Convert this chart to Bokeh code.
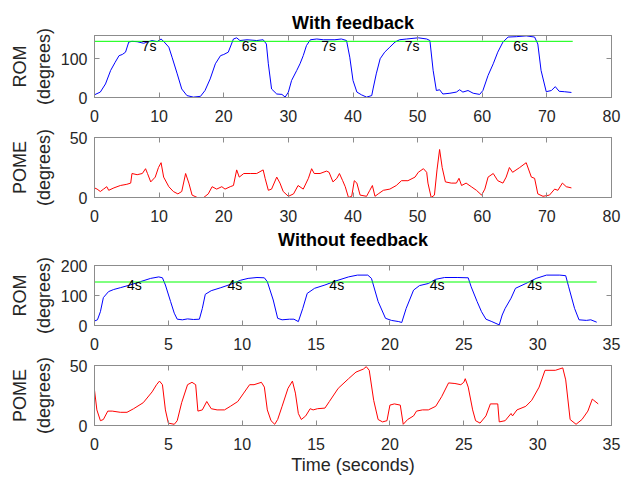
from bokeh.plotting import figure
from bokeh.layouts import column
from bokeh.models import Range1d, LinearAxis, FixedTicker, Title
from bokeh.embed import file_html
from bokeh.resources import INLINE
from bokeh.core.properties import value

# ---------------- data: with feedback ----------------
fb_rom_t = [0, 0.9, 1.7, 2.5, 3.2, 3.8, 4.3, 4.8, 5.3, 5.8, 6.6, 7.6, 8.9, 9.7, 10.3, 10.8, 11.5, 12.0,
            12.8, 13.5, 14.3, 15.3, 16.4, 17.1, 17.9, 18.7, 19.5, 20.0, 20.7, 21.5, 22.0, 22.5, 23.6,
            25.1, 26.1, 26.6, 26.9, 27.4, 28.2, 29.0, 29.5, 30.0, 30.5, 31.3, 31.8, 32.3, 32.8, 33.4,
            34.4, 35.4, 37.2, 38.2, 39.0, 39.5, 40.0, 40.6, 41.3, 42.1, 42.9, 43.1, 43.6, 44.2, 44.9,
            45.7, 46.5, 47.2, 48.3, 50.1, 51.4, 51.9, 52.4, 52.9, 53.4, 53.9, 55.0, 56.0, 56.5, 57.0,
            57.8, 58.6, 59.6, 60.1, 60.9, 61.7, 62.4, 63.2, 64.0, 65.3, 66.8, 68.1, 68.6, 69.1, 69.9,
            70.7, 71.3, 71.9, 72.7, 73.8]
fb_rom_v = [7, 14, 35, 70, 91, 108, 111, 117, 143, 145, 144, 140, 147, 144, 151, 143, 130, 104,
            61, 22, 5, 1, 3, 18, 48, 87, 108, 111, 117, 151, 154, 147, 149,
            147, 149, 138, 87, 22, 9, 8, 1, 14, 44, 70, 87, 108, 134, 149,
            151, 149, 149, 151, 147, 104, 44, 14, 7, 1, 5, 22, 61, 100, 117,
            130, 143, 149, 151, 154, 151, 147, 70, 18, 20, 9, 11, 14, 20, 14,
            18, 11, 8, 18, 57, 87, 117, 143, 156, 157, 159, 156, 138, 70, 15,
            18, 28, 16, 15, 13]

fb_pome_t = [0, 0.4, 0.9, 1.4, 1.9, 2.2, 3.0, 4.0, 5.0, 5.6, 5.8, 6.6, 7.4, 7.9, 8.2, 8.7, 9.4, 9.9,
             10.3, 10.7, 11.5, 12.2, 12.9, 13.5, 14.1, 14.6, 15.1, 15.9, 16.9, 17.6, 18.2, 18.9, 19.7,
             20.2, 21.0, 21.5, 22.0, 22.4, 23.1, 24.1, 25.1, 26.1, 26.4, 26.9, 27.4, 28.2, 28.7, 29.2,
             30.0, 30.8, 31.5, 32.3, 33.1, 33.6, 34.0, 34.9, 35.9, 36.3, 36.9, 37.5, 37.9, 38.4, 38.8,
             39.3, 39.8, 40.2, 40.6, 41.1, 42.1, 42.6, 43.0, 43.4, 43.9, 44.7, 45.7, 46.7, 47.5, 48.5,
             49.6, 50.1, 50.9, 51.4, 51.6, 52.1, 52.6, 53.0, 53.4, 53.8, 54.3, 55.2, 56.0, 56.4, 56.8,
             57.5, 58.3, 59.1, 59.9, 60.4, 60.9, 61.7, 62.4, 63.2, 63.7, 64.2, 64.7, 65.8, 66.8, 67.6,
             68.1, 68.6, 69.4, 70.4, 71.2, 71.7, 72.4, 73.0, 73.8]
fb_pome_v = [8, 7, 5, 7, 9, 6, 8, 10, 11, 12, 20, 19, 20, 24, 20, 13, 17, 25,
             29, 17, 9, 5, 3, 5, 20, 12, 2, 0, 0, 3, 9, 7, 9,
             7, 9, 10, 23, 17, 20, 20, 20, 23, 16, 6, 7, 17, 12, 5,
             1, 3, 10, 7, 16, 24, 20, 20, 22, 21, 13, 16, 20, 14, 9,
             0, 1, 14, 12, 2, 1, 6, 10, 1, 3, 6, 7, 10, 14, 14,
             17, 21, 24, 21, 12, 0, 2, 23, 40, 25, 13, 12, 12, 16, 10,
             12, 9, 6, 2, 7, 17, 20, 14, 12, 17, 25, 21, 25, 29, 17,
             16, 3, 1, 2, 7, 6, 12, 9, 8]

fb_target = 145
fb_target_t = [0, 74]
fb_note_t = [7.3, 22.8, 35.1, 48.0, 64.8]
fb_note_v = [132, 132, 132, 132, 132]
fb_note_txt = ["7s", "6s", "7s", "7s", "6s"]

# ---------------- data: without feedback ----------------
nf_rom_t = [0, 0.2, 0.4, 0.6, 0.95, 1.3, 1.75, 2.4, 3.1, 3.8, 4.35, 4.6, 4.8, 5.15, 5.4, 5.6, 5.95,
            6.3, 6.7, 7.1, 7.3, 7.5, 7.9, 8.55, 9.2, 9.9, 10.4, 11.0, 11.5, 11.7, 12.1, 12.4, 12.7,
            13.2, 13.5, 13.8, 14.1, 14.4, 14.9, 15.6, 16.3, 17.2, 17.8, 18.5, 18.75, 19.2, 19.7, 20.1,
            20.6, 20.8, 21.1, 21.6, 22.0, 22.6, 23.1, 23.7, 24.6, 25.3, 25.5, 25.9, 26.2, 26.5, 26.9,
            27.4, 27.6, 27.8, 28.2, 28.5, 29.2, 29.9, 30.6, 31.5, 31.9, 32.1, 32.5, 32.8, 33.3, 33.6, 34.0]
nf_rom_v = [15, 19, 46, 93, 113, 120, 126, 135, 146, 157, 162, 159, 135, 80, 41, 21, 19,
            22, 20, 21, 57, 104, 116, 126, 137, 151, 157, 160, 159, 146, 85, 24, 19,
            21, 21, 13, 57, 107, 124, 135, 148, 162, 168, 168, 157, 80, 24, 17,
            13, 10, 57, 118, 133, 140, 154, 160, 160, 159, 129, 80, 46, 21, 13,
            2, 35, 57, 91, 124, 140, 157, 168, 168, 166, 129, 57, 19, 17, 19, 11]

nf_pome_t = [0, 0.16, 0.4, 0.6, 0.9, 1.2, 1.75, 2.2, 2.65, 3.3, 3.9, 4.2, 4.4, 4.6, 4.8, 5.0, 5.4,
             5.6, 5.9, 6.3, 6.6, 6.85, 7.0, 7.3, 7.6, 7.9, 8.3, 8.8, 9.2, 9.7, 10.1, 10.5, 10.8, 11.3,
             11.5, 11.7, 11.95, 12.2, 12.4, 12.7, 13.1, 13.4, 13.6, 13.8, 14.0, 14.3, 14.6, 14.8, 15.1,
             15.6, 15.9, 16.5, 17.2, 17.7, 18.2, 18.4, 18.6, 18.9, 19.2, 19.5, 19.8, 20.0, 20.3, 20.7,
             20.9, 21.2, 21.6, 21.8, 22.2, 22.6, 23.1, 23.5, 23.97, 24.4, 24.8, 25.0, 25.1, 25.3, 25.6,
             25.8, 26.1, 26.5, 26.8, 27.3, 27.4, 27.8, 28.2, 28.3, 28.6, 29.2, 29.6, 30.1, 30.5, 31.2,
             31.7, 31.9, 32.2, 32.6, 33.0, 33.4, 33.7, 33.8, 34.1]
nf_pome_v = [29.5, 13, 4, 5, 12, 12, 11, 11, 14, 19, 28, 34, 37, 34, 13, 2, 1,
             4, 19, 34, 36, 34, 12, 13, 20, 14, 13, 13, 16, 20, 27, 34, 34, 36,
             32, 13, 4, 1, 5, 16, 31, 37, 27, 10, 5, 8, 14, 13, 14,
             14.5, 20, 31, 39, 44.5, 47, 49, 46, 21, 5, 3, 4, 17, 18, 17,
             1, 5, 8, 12, 13, 13, 16, 24, 35.5, 35, 34, 36, 39, 32, 13,
             4, 2, 8, 18, 18, 3, 4, 10, 8, 13, 16, 21, 32, 46, 46,
             48, 38, 5, 1, 5, 12, 22, 21, 18]

nf_target = 145
nf_target_t = [0, 34]
nf_note_t = [2.2, 9.0, 15.9, 22.7, 29.3]
nf_note_v = [134, 134, 134, 134, 134]
nf_note_txt = ["4s", "4s", "4s", "4s", "4s"]

# ---------------- styling helpers ----------------
FONT = "Liberation Sans"
AXC = "#8c8c8c"
TXT = "#262626"
W = 622
LEFT = 94
RIGHT = W - LEFT - 517


def style_title(t, standoff):
    t.align = "center"
    t.text_font = FONT
    t.text_font_size = "18px"
    t.text_font_style = "bold"
    t.text_color = "black"
    t.standoff = standoff


def panel(height, top, bottom, xmax, xticks, ymax, yticks, ylabel, label_standoff,
          title=None, title_standoff=2, xlabel=None):
    p = figure(width=W, height=height, output_backend="svg", toolbar_location=None,
               x_range=Range1d(0, xmax), y_range=Range1d(0, ymax),
               min_border_left=LEFT, min_border_right=RIGHT,
               min_border_top=top, min_border_bottom=bottom,
               title=title)
    p.xgrid.visible = False
    p.ygrid.visible = False
    p.outline_line_color = AXC
    p.outline_line_width = 1
    p.background_fill_color = "white"
    p.border_fill_color = "white"
    if title:
        style_title(p.title, title_standoff)
    for ax, ticks in ((p.xaxis[0], xticks), (p.yaxis[0], yticks)):
        ax.ticker = FixedTicker(ticks=ticks)
        ax.axis_line_color = AXC
        ax.major_tick_line_color = AXC
        ax.major_tick_in = 5
        ax.major_tick_out = 0
        ax.minor_tick_line_color = None
        ax.major_label_text_font = FONT
        ax.major_label_text_font_size = "16px"
        ax.major_label_text_color = TXT
    p.xaxis[0].major_label_standoff = 12
    p.yaxis[0].major_label_standoff = 7
    p.yaxis[0].axis_label = ylabel
    p.yaxis[0].axis_label_text_font = FONT
    p.yaxis[0].axis_label_text_font_size = "18px"
    p.yaxis[0].axis_label_text_font_style = "normal"
    p.yaxis[0].axis_label_text_color = TXT
    p.yaxis[0].axis_label_text_line_height = 1.2
    p.yaxis[0].axis_label_standoff = label_standoff
    if xlabel:
        p.xaxis[0].axis_label = xlabel
        p.xaxis[0].axis_label_text_font = FONT
        p.xaxis[0].axis_label_text_font_size = "18px"
        p.xaxis[0].axis_label_text_font_style = "normal"
        p.xaxis[0].axis_label_text_color = TXT
        p.xaxis[0].axis_label_standoff = 2
    # mirrored inward ticks on top and right (no labels)
    top_ax = LinearAxis(ticker=FixedTicker(ticks=xticks), major_tick_in=5, major_tick_out=0,
                        minor_tick_line_color=None, axis_line_color=AXC,
                        major_tick_line_color=AXC,
                        major_label_overrides={t: "" for t in xticks},
                        major_label_standoff=0)
    right_ax = LinearAxis(ticker=FixedTicker(ticks=yticks), major_tick_in=5, major_tick_out=0,
                          minor_tick_line_color=None, axis_line_color=AXC,
                          major_tick_line_color=AXC,
                          major_label_overrides={t: "" for t in yticks},
                          major_label_standoff=0)
    p.add_layout(top_ax, "above")
    p.add_layout(right_ax, "right")
    return p


ROM_LABEL = "ROM\n(degrees)"
POME_LABEL = "POME\n(degrees)"
X_FB = [0, 10, 20, 30, 40, 50, 60, 70, 80]
X_NF = [0, 5, 10, 15, 20, 25, 30, 35]

p1 = panel(125, 35, 28, 80, X_FB, 160, [0, 100],
           ROM_LABEL, 4, title="With feedback", title_standoff=6)
p1.line(fb_rom_t, fb_rom_v, line_color="#0000ff", line_width=1)
p1.line(fb_target_t, [fb_target, fb_target], line_color="#00ff00", line_width=1)
p1.text(x=fb_note_t, y=fb_note_v, text=fb_note_txt, text_font=value(FONT),
        text_font_size="14px", text_align="left", text_baseline="middle", text_color="black")

p2 = panel(130, 12, 58, 80, X_FB, 50, [0, 50], POME_LABEL, 13)
p2.line(fb_pome_t, fb_pome_v, line_color="#ff0000", line_width=1)
nf_title = Title(text="Without feedback")
style_title(nf_title, 6)
p2.add_layout(nf_title, "below")

p3 = panel(98, 10, 28, 35, X_NF, 200, [0, 100, 200], ROM_LABEL, 4)
p3.line(nf_rom_t, nf_rom_v, line_color="#0000ff", line_width=1)
p3.line(nf_target_t, [nf_target, nf_target], line_color="#00ff00", line_width=1)
p3.text(x=nf_note_t, y=nf_note_v, text=nf_note_txt, text_font=value(FONT),
        text_font_size="14px", text_align="left", text_baseline="middle", text_color="black")

p4 = panel(124, 12, 51, 35, X_NF, 50, [0, 50], POME_LABEL, 13, xlabel="Time (seconds)")
p4.line(nf_pome_t, nf_pome_v, line_color="#ff0000", line_width=1)

layout = column(p1, p2, p3, p4, spacing=0)
open("out.html", "w").write(file_html(layout, INLINE))
